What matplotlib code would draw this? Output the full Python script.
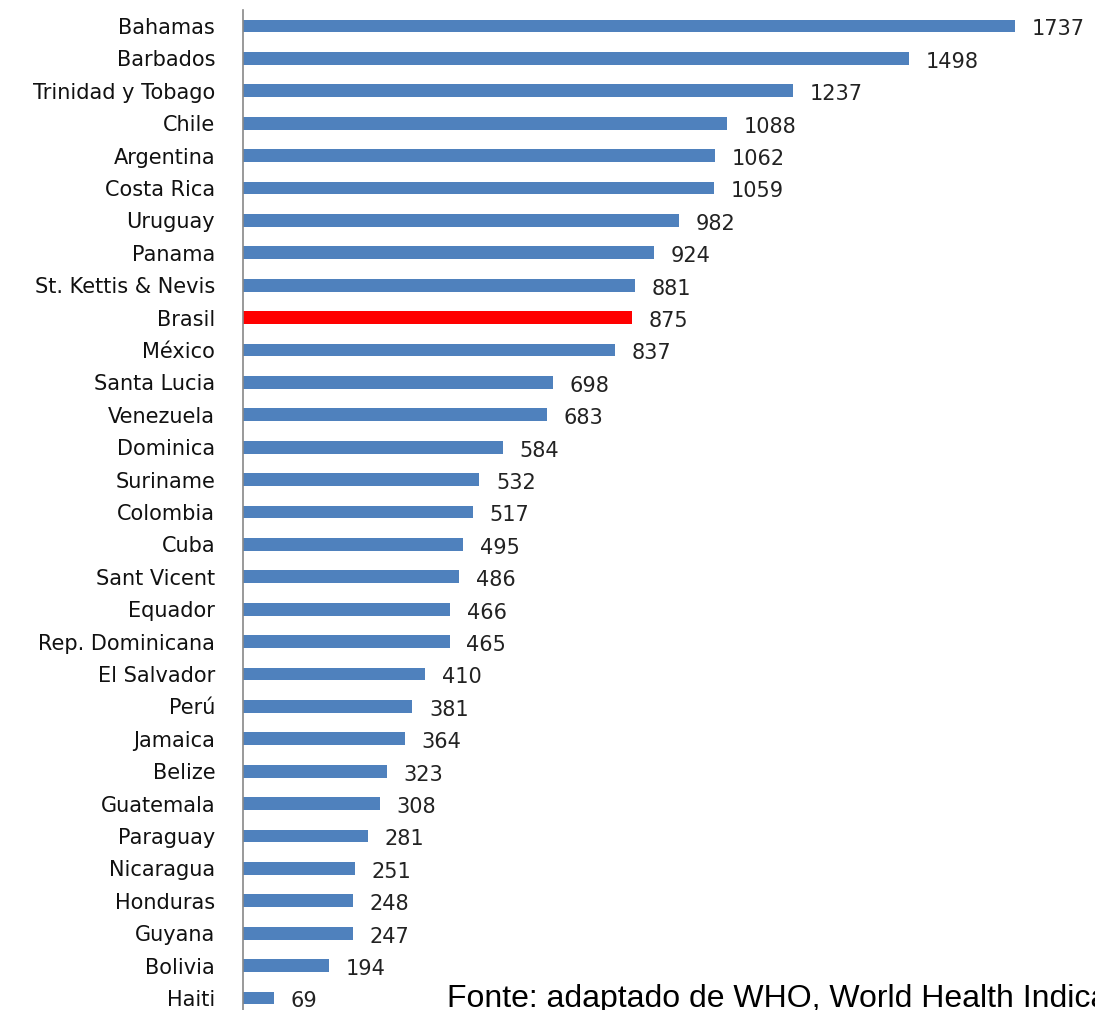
import matplotlib.pyplot as plt

countries = [
    "Bahamas", "Barbados", "Trinidad y Tobago", "Chile", "Argentina",
    "Costa Rica", "Uruguay", "Panama", "St. Kettis & Nevis", "Brasil",
    "México", "Santa Lucia", "Venezuela", "Dominica", "Suriname",
    "Colombia", "Cuba", "Sant Vicent", "Equador", "Rep. Dominicana",
    "El Salvador", "Perú", "Jamaica", "Belize", "Guatemala",
    "Paraguay", "Nicaragua", "Honduras", "Guyana", "Bolivia", "Haiti",
]
values = [
    1737, 1498, 1237, 1088, 1062, 1059, 982, 924, 881, 875,
    837, 698, 683, 584, 532, 517, 495, 486, 466, 465,
    410, 381, 364, 323, 308, 281, 251, 248, 247, 194, 69,
]
highlight = "Brasil"

BLUE = "#4F81BD"
RED = "#FF0000"

W, H = 1095, 1010
fig = plt.figure(figsize=(W / 100, H / 100), dpi=100)
ax = fig.add_axes([243 / W, 0, (W - 243) / W, 1000 / H])

pos = list(range(len(countries)))
colors = [RED if c == highlight else BLUE for c in countries]
ax.barh(pos, values, height=0.4, color=colors)

# value labels sit a little right of and below the bar end
for y, v in zip(pos, values):
    ax.annotate(str(v), (v, y), xytext=(12, -2.5), textcoords="offset points",
                ha="left", va="center", fontsize=15, color="#222222")

ax.set_yticks(pos)
ax.set_yticklabels(countries, fontsize=15, color="#111111")
ax.tick_params(axis="y", length=0, pad=20)
ax.set_xticks([])
ax.set_xlim(0, 1737 * (W - 243) / (1015 - 243))
ax.set_ylim(30.37, -0.494)
for side in ("top", "right", "bottom"):
    ax.spines[side].set_visible(False)
ax.spines["left"].set_color("#888888")
ax.spines["left"].set_linewidth(1.2)

# source note runs off the right edge, as in the original
fig.text(447 / W, 1 - 1007 / H, "Fonte: adaptado de WHO, World Health Indicators",
         fontsize=23, family="Liberation Sans", va="baseline", ha="left")

fig.savefig("out.png", dpi=100)
